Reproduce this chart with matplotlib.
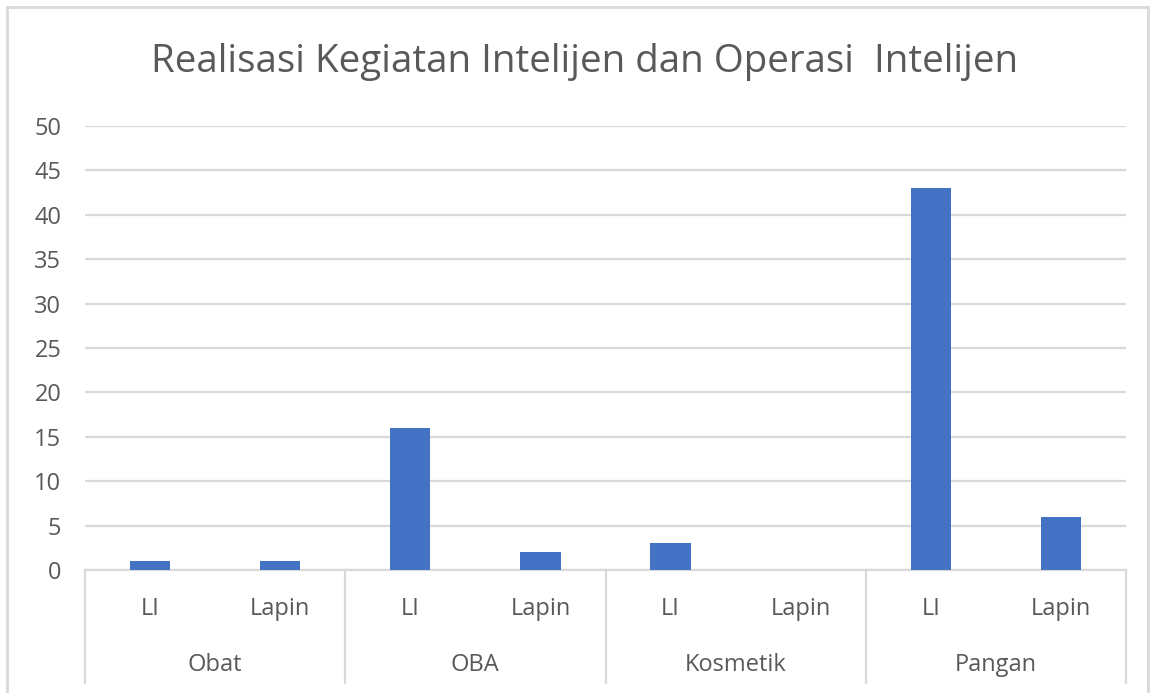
import matplotlib
matplotlib.use("Agg")
import matplotlib.pyplot as plt
import matplotlib.transforms as mtransforms
from matplotlib.patches import Rectangle
import numpy as np

plt.rcParams['font.family'] = ['Open Sans', 'DejaVu Sans']

groups = ['Obat', 'OBA', 'Kosmetik', 'Pangan']
subs = ['LI', 'Lapin']
values = [1, 1, 16, 2, 3, 0, 43, 6]

grey_text = '#595959'
grid_col = '#d9d9d9'
bar_col = '#4472c4'

fig = plt.figure(figsize=(11.57, 6.93), dpi=100)
ax = fig.add_axes([85/1157, 123/693, (1126-85)/1157, 444/693])

x = np.arange(len(values))
ax.bar(x, values, width=0.31, color=bar_col, zorder=3)

ax.set_xlim(-0.5, len(values) - 0.5)
ax.set_ylim(0, 50)
ax.set_yticks(np.arange(0, 51, 5))
ax.yaxis.grid(True, color=grid_col, linewidth=1.6, zorder=0)
ax.tick_params(axis='y', length=0, labelsize=17, labelcolor=grey_text, pad=17)
ax.set_xticks([])
for s in ['top', 'right', 'left']:
    ax.spines[s].set_visible(False)
ax.spines['bottom'].set_color(grid_col)
ax.spines['bottom'].set_linewidth(1.6)

trans = mtransforms.blended_transform_factory(ax.transData, ax.transAxes)
# sub-category labels
for i in x:
    ax.text(i, -0.087, subs[i % 2], transform=trans, ha='center', va='center',
            fontsize=17, color=grey_text)
# group labels
for g, name in enumerate(groups):
    ax.text(2 * g + 0.5, -0.214, name, transform=trans, ha='center', va='center',
            fontsize=17, color=grey_text)
# group separators
for b in np.arange(-0.5, len(values), 2):
    ax.plot([b, b], [0, -0.255], transform=trans, color=grid_col,
            linewidth=1.6, clip_on=False)

fig.text(585/1157, 1 - 62/693, 'Realisasi Kegiatan Intelijen dan Operasi  Intelijen',
         ha='center', va='center', fontsize=27.7, color=grey_text)

# chart border
fig.patches.append(Rectangle((7/1157, -0.05), (1148-7)/1157, 1.05 - 7/693,
                             transform=fig.transFigure, fill=False,
                             edgecolor=grid_col, linewidth=2))

fig.savefig('out.png', dpi=100)
